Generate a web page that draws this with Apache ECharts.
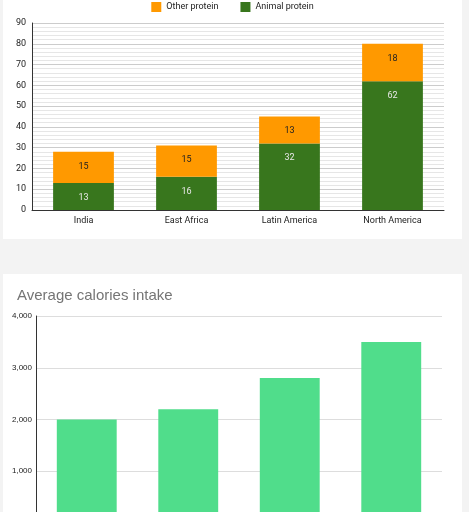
<!DOCTYPE html>
<html><head><meta charset="utf-8">
<script src="https://cdn.jsdelivr.net/npm/echarts@6/dist/echarts.min.js"></script>
<style>
html,body{margin:0;padding:0;width:469px;height:512px;overflow:hidden;background:#f3f3f3;font-family:Roboto,Arial,sans-serif}
.card{position:absolute;left:3px;width:459px;background:#fff}
</style></head><body>
<div class="card" id="c1" style="top:0;height:239px"></div>
<div class="card" id="c2" style="top:274px;height:300px"></div>
<script>
const categories = ['India','East Africa','Latin America','North America'];
const animalProtein = [13,16,32,62];
const otherProtein = [15,15,13,18];
const calories = [2000,2200,2800,3500];
const proteinTicks = [0,10,20,30,40,50,60,70,80,90];
const calorieTicks = [0,1000,2000,3000,4000];

const c1 = echarts.init(document.getElementById('c1'));
c1.setOption({
  animation:false,
  textStyle:{fontFamily:'Roboto, Arial, sans-serif'},
  legend:{top:-3,left:'center',itemWidth:10,itemHeight:10,itemGap:22,icon:'rect',
    textStyle:{fontSize:9,color:'#222'},data:['Other protein','Animal protein']},
  grid:{left:29,right:18,top:23,bottom:29},
  xAxis:{type:'category',data:categories,axisTick:{show:false},
    axisLine:{lineStyle:{color:'#333'}},axisLabel:{fontSize:9,color:'#222',margin:6}},
  yAxis:{type:'value',min:proteinTicks[0],max:proteinTicks[proteinTicks.length-1],interval:10,
    axisLine:{show:true,lineStyle:{color:'#333'}},axisLabel:{fontSize:9,color:'#222',margin:6},
    splitLine:{lineStyle:{color:'#ccc'}},
    minorTick:{show:false,splitNumber:5},minorSplitLine:{show:true,lineStyle:{color:'#e6e6e6'}}},
  series:[
    {name:'Animal protein',type:'bar',stack:'p',data:animalProtein,barWidth:'59%',
      itemStyle:{color:'#38761d'},
      label:{show:true,position:'inside',color:'#e8e8e8',fontSize:9,offset:[0,0],
        formatter:p=>p.value},labelLayout:{},
      },
    {name:'Other protein',type:'bar',stack:'p',data:otherProtein,
      itemStyle:{color:'#ff9900'},
      label:{show:true,position:'inside',color:'#222',fontSize:9}}
  ]
});
// place labels near top of segments
c1.setOption({series:[{label:{position:'insideTop',distance:10}},{label:{position:'insideTop',distance:10}}]});

const c2 = echarts.init(document.getElementById('c2'));
c2.setOption({
  animation:false,
  title:{text:'Average calories intake',left:9,top:9,textStyle:{fontSize:15,fontWeight:'normal',color:'#757575'}},
  grid:{left:33,right:20,top:42,bottom:51},
  xAxis:{type:'category',data:categories,axisTick:{show:false},axisLine:{lineStyle:{color:'#333'}},
    axisLabel:{fontSize:9,color:'#222'}},
  yAxis:{type:'value',min:calorieTicks[0],max:calorieTicks[calorieTicks.length-1],interval:1000,
    axisLine:{show:true,lineStyle:{color:'#333'}},axisLabel:{fontSize:8,color:'#222',margin:4},
    splitLine:{lineStyle:{color:'#ddd'}}},
  series:[{type:'bar',data:calories,barWidth:'59%',itemStyle:{color:'#50dd8b'}}]
});
</script></body></html>
